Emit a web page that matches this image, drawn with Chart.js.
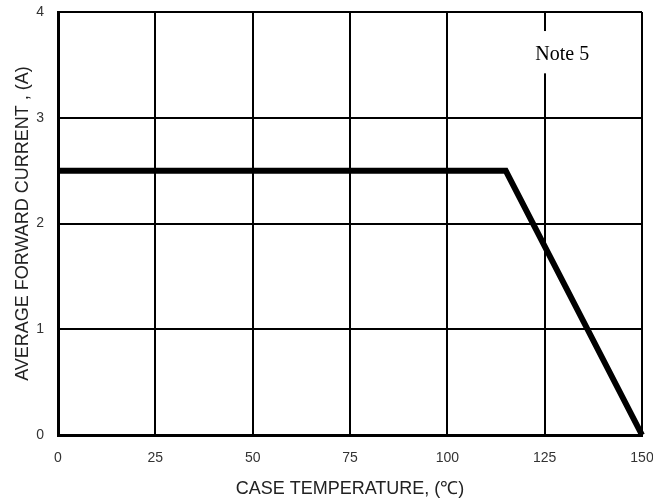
<!DOCTYPE html>
<html><head><meta charset="utf-8">
<script src="https://cdn.jsdelivr.net/npm/chart.js@4.4.0/dist/chart.umd.min.js"></script>
<style>html,body{margin:0;padding:0;background:#fff}#wrap{width:653px;height:504px}</style>
</head><body><div id="wrap"><canvas id="c" width="653" height="504"></canvas></div>
<script>
const temperatures = [0, 115, 150];
const currents = [2.5, 2.5, 0];
const xTicks = [0, 25, 50, 75, 100, 125, 150];
const yTicks = [0, 1, 2, 3, 4];
const xTitle = 'CASE TEMPERATURE, (\u2103)';
const yTitle = 'AVERAGE FORWARD CURRENT , (A)';
const noteText = 'Note 5';
const noteLineX = 125;
const noteTextX = 129.5;
const noteTextY = 3.6;
const noteGapTop = 3.82;
const noteGapBottom = 3.42;

const notePlugin = {
  id: 'note',
  afterDatasetsDraw(chart) {
    const {ctx, scales: {x, y}} = chart;
    const px = x.getPixelForValue(noteLineX);
    ctx.save();
    ctx.fillStyle = '#fff';
    const yt = y.getPixelForValue(noteGapTop), yb = y.getPixelForValue(noteGapBottom);
    ctx.fillRect(px - 3, yt, 6, yb - yt);
    ctx.fillStyle = '#000';
    ctx.font = '20px "Liberation Serif", "Times New Roman", serif';
    ctx.textAlign = 'center';
    ctx.textBaseline = 'middle';
    ctx.fillText(noteText, x.getPixelForValue(noteTextX), y.getPixelForValue(noteTextY));
    ctx.restore();
  }
};

const points = temperatures.map((t, i) => ({x: t, y: currents[i]}));

new Chart(document.getElementById('c'), {
  type: 'scatter',
  data: {
    datasets: [{
      data: points,
      showLine: true,
      borderColor: '#000',
      borderWidth: 6,
      pointRadius: 0,
      fill: false,
      tension: 0,
      borderJoinStyle: 'miter',
      clip: false
    }]
  },
  options: {
    responsive: false,
    animation: false,
    devicePixelRatio: 1,
    layout: {padding: {top: 12, right: 11, left: 0, bottom: 0}},
    plugins: {legend: {display: false}, tooltip: {enabled: false}},
    scales: {
      x: {
        type: 'linear',
        min: 0, max: 150,
        afterBuildTicks(s) { s.ticks = xTicks.map(v => ({value: v})); },
        afterFit(s) { s.height = 69; s.paddingLeft = 0; s.paddingRight = 0; },
        ticks: {color: '#333', font: {family: '"Liberation Sans", Arial, sans-serif', size: 14}, padding: 15, maxRotation: 0, autoSkip: false},
        grid: {color: '#000', lineWidth: 2, drawTicks: false},
        border: {color: '#000', width: 3},
        title: {display: true, text: xTitle, color: '#222', font: {family: '"Liberation Sans", Arial, sans-serif', size: 18}, padding: {top: 4, bottom: 4}}
      },
      y: {
        type: 'linear',
        min: 0, max: 4,
        afterBuildTicks(s) { s.ticks = yTicks.map(v => ({value: v})); },
        afterFit(s) { s.width = 58; s.paddingTop = 0; s.paddingBottom = 0; },
        ticks: {color: '#333', font: {family: '"Liberation Sans", Arial, sans-serif', size: 14}, padding: 14},
        grid: {color: '#000', lineWidth: 2, drawTicks: false},
        border: {color: '#000', width: 3},
        title: {display: true, text: yTitle, color: '#222', font: {family: '"Liberation Sans", Arial, sans-serif', size: 18}, padding: {top: 12, bottom: 0}}
      }
    }
  },
  plugins: [notePlugin]
});
</script>
</body></html>
